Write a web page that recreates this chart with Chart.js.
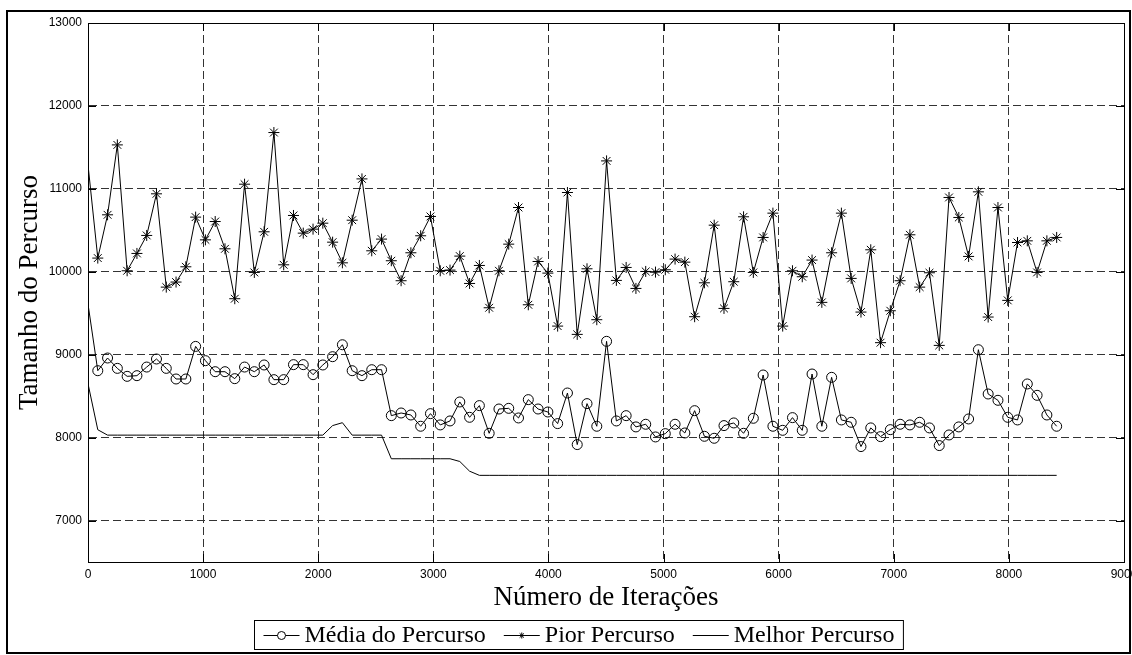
<!DOCTYPE html>
<html>
<head>
<meta charset="utf-8">
<script src="https://cdn.jsdelivr.net/npm/chart.js@4/dist/chart.umd.min.js"></script>
<style>
  html, body { margin: 0; padding: 0; background: #fff; }
  #wrap { width: 1132px; height: 655px; }
</style>
</head>
<body>
<div id="wrap"><canvas id="myChart" width="1132" height="655"></canvas></div>
<script>
// amostras a cada 85 iterações
const ITER_STEP = 85;

const xTicks = [0, 1000, 2000, 3000, 4000, 5000, 6000, 7000, 8000, 9000];
const yTicks = [7000, 8000, 9000, 10000, 11000, 12000, 13000];

const seriesNames = ['Média do Percurso', 'Pior Percurso', 'Melhor Percurso'];

const mediaPercurso = [
    9610, 8807, 8960, 8835, 8739, 8747, 8851, 8948, 8835, 8707,
    8707, 9100, 8928, 8795, 8795, 8711, 8851, 8795, 8876, 8699,
    8699, 8880, 8880, 8759, 8876, 8976, 9120, 8807, 8747, 8819,
    8819, 8265, 8297, 8273, 8137, 8289, 8153, 8201, 8430, 8245,
    8386, 8052, 8345, 8353, 8237, 8458, 8345, 8309, 8169, 8538,
    7916, 8410, 8137, 9161, 8201, 8265, 8129, 8161, 8008, 8048,
    8161, 8056, 8325, 8016, 7992, 8145, 8177, 8052, 8233, 8755,
    8137, 8088, 8241, 8088, 8767, 8137, 8727, 8213, 8185, 7892,
    8117, 8012, 8096, 8161, 8153, 8185, 8117, 7904, 8032, 8129,
    8225, 9060, 8526, 8450, 8245, 8213, 8647, 8510, 8273, 8137
];

const piorPercurso = [
    11290, 10165, 10687, 11530, 10012, 10221, 10438, 10940, 9815, 9876,
    10060, 10659, 10385, 10606, 10277, 9675, 11056, 9992, 10482, 11679,
    10084, 10679, 10466, 10514, 10586, 10357, 10108, 10622, 11120, 10253,
    10394, 10133, 9892, 10229, 10434, 10667, 10012, 10020, 10189, 9859,
    10076, 9566, 10012, 10333, 10775, 9602, 10124, 9984, 9345, 10956,
    9245, 10036, 9422, 11337, 9896, 10052, 9799, 10004, 9996, 10024,
    10153, 10116, 9458, 9867, 10562, 9558, 9880, 10663, 9992, 10414,
    10707, 9345, 10012, 9940, 10141, 9631, 10229, 10707, 9920, 9514,
    10265, 9145, 9530, 9892, 10446, 9815, 9988, 9112, 10896, 10655,
    10185, 10964, 9454, 10775, 9655, 10353, 10373, 9992, 10373, 10414
];

const melhorPercurso = [
    8650, 8095, 8030, 8030, 8030, 8030, 8030, 8030, 8030, 8030,
    8030, 8030, 8030, 8030, 8030, 8030, 8030, 8030, 8030, 8030,
    8030, 8030, 8030, 8030, 8030, 8145, 8180, 8030, 8030, 8030,
    8030, 7745, 7745, 7745, 7745, 7745, 7745, 7745, 7712, 7595,
    7545, 7545, 7545, 7545, 7545, 7545, 7545, 7545, 7545, 7545,
    7545, 7545, 7545, 7545, 7545, 7545, 7545, 7545, 7545, 7545,
    7545, 7545, 7545, 7545, 7545, 7545, 7545, 7545, 7545, 7545,
    7545, 7545, 7545, 7545, 7545, 7545, 7545, 7545, 7545, 7545,
    7545, 7545, 7545, 7545, 7545, 7545, 7545, 7545, 7545, 7545,
    7545, 7545, 7545, 7545, 7545, 7545, 7545, 7545, 7545, 7545
];

function toPoints(values) {
    return values.map((v, i) => ({ x: i * ITER_STEP, y: v }));
}

// sem marcador no primeiro ponto (como na figura original)
function markerRadius(r) {
    return ctx => ctx.dataIndex === 0 ? 0 : r;
}

const SERIF = '"Liberation Serif", "Times New Roman", serif';
const SANS = '"Liberation Sans", Arial, sans-serif';

const frame = {
    id: 'frame',
    afterDraw(chart) {
        const ctx = chart.ctx;
        const a = chart.chartArea;
        const xs = chart.scales.x;
        const ys = chart.scales.y;
        ctx.save();
        ctx.strokeStyle = '#000';
        ctx.lineWidth = 1;

        // caixa dos eixos
        ctx.strokeRect(Math.round(a.left) + 0.5, Math.round(a.top) + 0.5,
            Math.round(a.right - a.left), Math.round(a.bottom - a.top));

        // marcas internas
        ctx.beginPath();
        xTicks.forEach(v => {
            const px = Math.round(xs.getPixelForValue(v)) + 0.5;
            ctx.moveTo(px, a.bottom); ctx.lineTo(px, a.bottom - 8);
            ctx.moveTo(px, a.top); ctx.lineTo(px, a.top + 8);
        });
        yTicks.forEach(v => {
            const py = Math.round(ys.getPixelForValue(v)) + 0.5;
            ctx.moveTo(a.left, py); ctx.lineTo(a.left + 8, py);
            ctx.moveTo(a.right, py); ctx.lineTo(a.right - 8, py);
        });
        ctx.stroke();

        // legenda
        const sets = chart.data.datasets;
        ctx.font = '24px ' + SERIF;
        const sampleLen = 36, gapText = 5, gapItem = 18, pad = 9;
        const widths = sets.map(d => ctx.measureText(d.label).width);
        const total = pad * 2 + sets.length * (sampleLen + gapText) +
            widths.reduce((s, w) => s + w, 0) + gapItem * (sets.length - 1);
        const cx = 578;
        const boxL = Math.round(cx - total / 2) + 0.5;
        const boxT = 620.5, boxH = 29;
        ctx.fillStyle = '#fff';
        ctx.fillRect(boxL, boxT, total, boxH);
        ctx.strokeRect(boxL, boxT, total, boxH);
        const ly = boxT + boxH / 2;
        let lx = boxL + pad;
        ctx.textBaseline = 'middle';
        ctx.textAlign = 'left';
        sets.forEach((d, i) => {
            ctx.beginPath();
            ctx.moveTo(lx, Math.round(ly) + 0.5);
            ctx.lineTo(lx + sampleLen, Math.round(ly) + 0.5);
            ctx.stroke();
            if (d.pointStyle && d.legendMarker) {
                ctx.fillStyle = '#fff';
                Chart.helpers.drawPoint(ctx, {
                    pointStyle: d.pointStyle,
                    radius: d.legendMarker,
                    borderWidth: 1,
                    rotation: 0
                }, lx + sampleLen / 2, Math.round(ly) + 0.5);
            }
            lx += sampleLen + gapText;
            ctx.fillStyle = '#000';
            ctx.fillText(d.label, lx, ly + 1);
            lx += widths[i] + gapItem;
        });

        // moldura externa da figura
        ctx.lineWidth = 2;
        ctx.strokeRect(7, 11, 1123, 642);
        ctx.restore();
    }
};

const datasets = [
    {
        label: seriesNames[0],
        data: toPoints(mediaPercurso),
        borderColor: '#000',
        borderWidth: 1,
        pointStyle: 'circle',
        pointRadius: markerRadius(5),
        pointBorderColor: '#000',
        pointBackgroundColor: 'rgba(0,0,0,0)',
        pointBorderWidth: 1,
        legendMarker: 4
    },
    {
        label: seriesNames[1],
        data: toPoints(piorPercurso),
        borderColor: '#000',
        borderWidth: 1,
        pointStyle: 'star',
        pointRadius: markerRadius(5.5),
        pointBorderColor: '#000',
        pointBorderWidth: 1,
        legendMarker: 3
    },
    {
        label: seriesNames[2],
        data: toPoints(melhorPercurso),
        borderColor: '#000',
        borderWidth: 1,
        pointRadius: 0
    }
];

const chart = new Chart(document.getElementById('myChart'), {
    type: 'line',
    data: { datasets: datasets },
    options: {
        responsive: false,
        animation: false,
        devicePixelRatio: 1,
        layout: {
            padding: { left: 8, top: 23, right: 8, bottom: 41 }
        },
        elements: {
            line: { tension: 0 }
        },
        plugins: {
            legend: { display: false },
            tooltip: { enabled: false }
        },
        scales: {
            x: {
                type: 'linear',
                min: 0,
                max: 9000,
                afterBuildTicks: s => { s.ticks = xTicks.map(v => ({ value: v })); },
                afterFit: s => { s.height = 52; s.paddingLeft = 0; s.paddingRight = 0; },
                ticks: {
                    color: '#000',
                    font: { family: SANS, size: 12 },
                    padding: 5,
                    maxRotation: 0,
                    autoSkip: false,
                    callback: v => String(v)
                },
                grid: { color: '#333', lineWidth: 1, drawTicks: false },
                border: { display: true, color: '#000', width: 1, dash: [8, 4] },
                title: {
                    display: true,
                    text: 'Número de Iterações',
                    color: '#000',
                    font: { family: SERIF, size: 27 },
                    padding: 0
                }
            },
            y: {
                type: 'linear',
                min: 6500,
                max: 13000,
                afterBuildTicks: s => { s.ticks = yTicks.map(v => ({ value: v })); },
                afterFit: s => { s.width = 80; s.paddingTop = 0; s.paddingBottom = 0; },
                ticks: {
                    color: '#000',
                    font: { family: SANS, size: 12 },
                    padding: 6,
                    callback: v => String(v)
                },
                grid: { color: '#333', lineWidth: 1, drawTicks: false },
                border: { display: true, color: '#000', width: 1, dash: [8, 4] },
                title: {
                    display: true,
                    text: 'Tamanho do Percurso',
                    color: '#000',
                    font: { family: SERIF, size: 27 },
                    padding: { top: 6, bottom: 0 }
                }
            }
        }
    },
    plugins: [frame]
});
</script>
</body>
</html>
